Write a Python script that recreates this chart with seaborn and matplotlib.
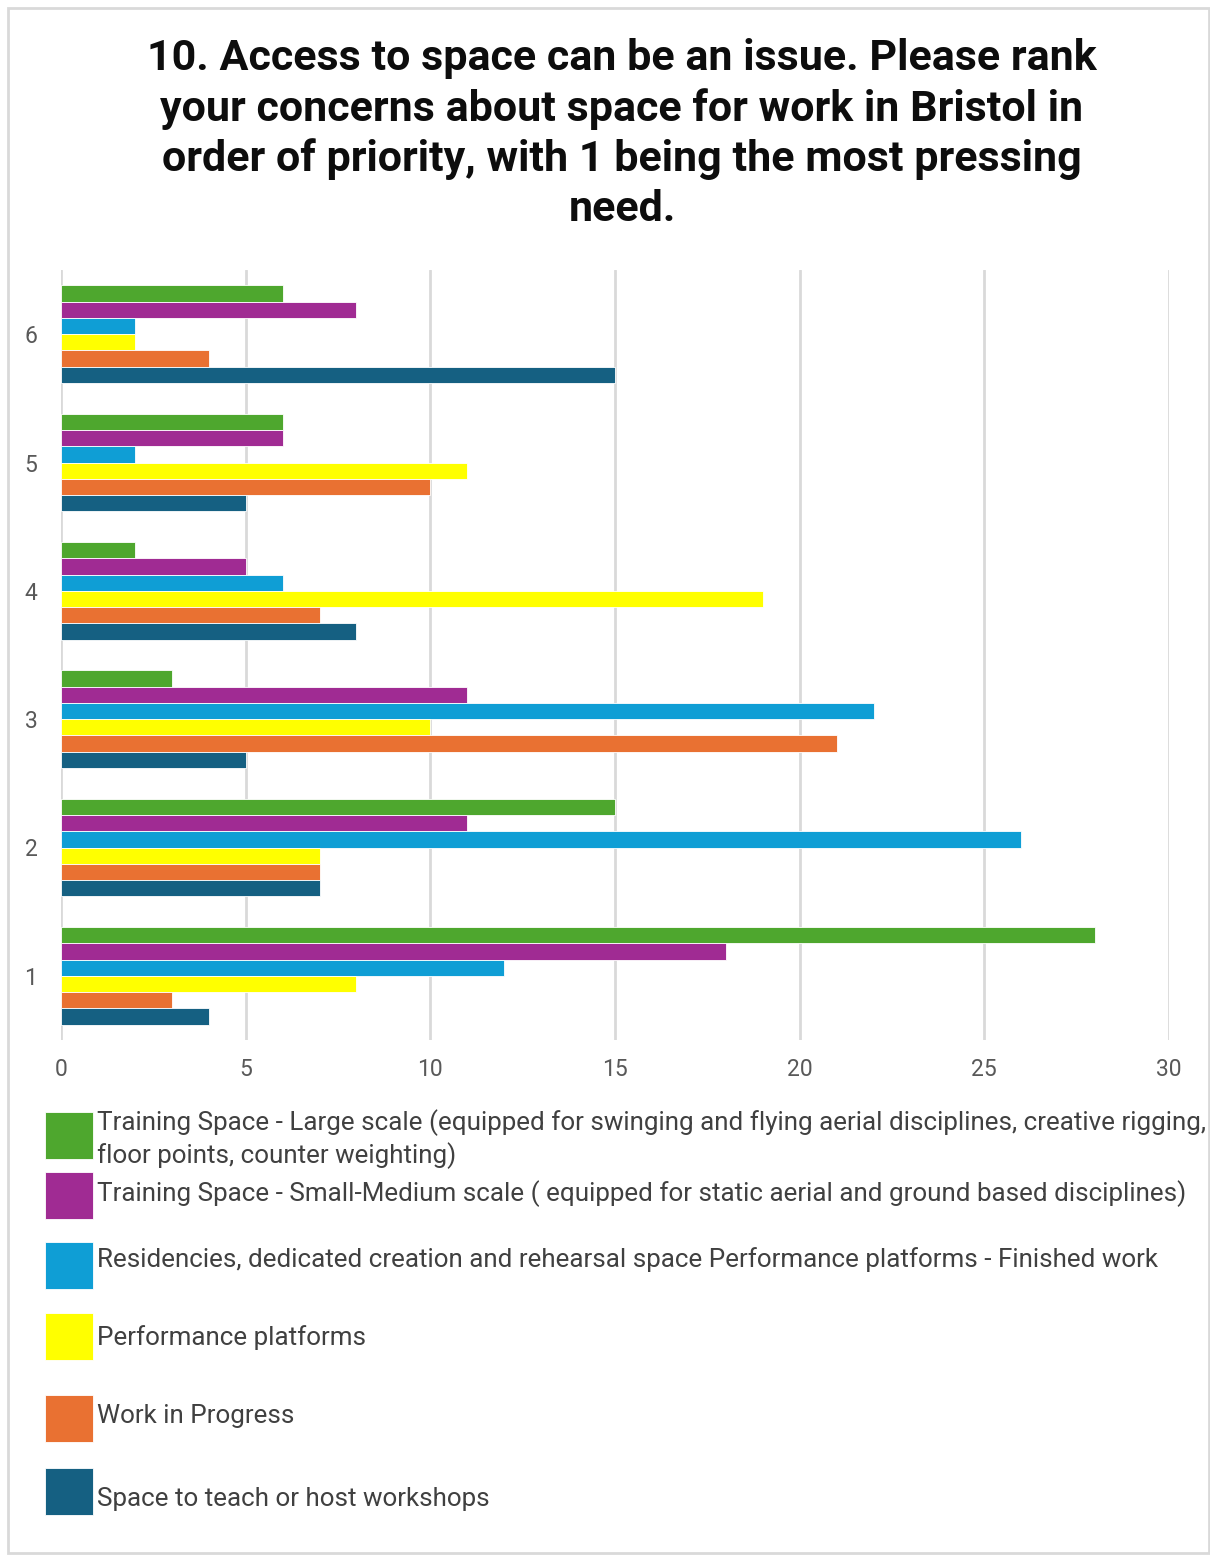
import matplotlib
matplotlib.use("Agg")
import matplotlib.pyplot as plt
from matplotlib.patches import Rectangle
import seaborn as sns
import pandas as pd

# Survey results: number of respondents giving each rank to each kind of space
ranks = ["6", "5", "4", "3", "2", "1"]
series = [
    "Training Space - Large scale (equipped for swinging and flying aerial disciplines, creative rigging,\nfloor points, counter weighting)",
    "Training Space - Small-Medium scale ( equipped for static aerial and ground based disciplines)",
    "Residencies, dedicated creation and rehearsal space Performance platforms - Finished work",
    "Performance platforms",
    "Work in Progress",
    "Space to teach or host workshops",
]
large_scale = [6, 6, 2, 3, 15, 28]
small_medium = [8, 6, 5, 11, 11, 18]
residencies = [2, 2, 6, 22, 26, 12]
performance = [2, 11, 19, 10, 7, 8]
work_in_progress = [4, 10, 7, 21, 7, 3]
workshops = [15, 5, 8, 5, 7, 4]
x_ticks = [0, 5, 10, 15, 20, 25, 30]

colors = ["#4EA72E", "#A02B93", "#0F9ED5", "#FFFF00", "#E97132", "#156082"]

values = [large_scale, small_medium, residencies, performance, work_in_progress, workshops]
rows = []
for name, vals in zip(series, values):
    for r, v in zip(ranks, vals):
        rows.append({"rank": r, "series": name, "count": v})
df = pd.DataFrame(rows)

sns.set_theme(style="white")
plt.rcParams["font.family"] = ["Roboto", "DejaVu Sans"]

W, H = 1210, 1555
fig = plt.figure(figsize=(W / 100, H / 100), dpi=100)


def fx(px):
    return px / W


def fy(py):
    return 1 - py / H


# Outer frame
fig.patches.append(Rectangle((fx(8), fy(1553)), fx(1209) - fx(8), fy(8) - fy(1553),
                             transform=fig.transFigure, fill=False,
                             edgecolor="#d9d9d9", linewidth=2))

ax = fig.add_axes([fx(61), fy(1040), fx(1169) - fx(61), fy(270) - fy(1040)])
sns.barplot(data=df, x="count", y="rank", hue="series", order=ranks,
            hue_order=series, palette=colors, saturation=1, orient="h",
            width=0.76, edgecolor="white", linewidth=0.6, legend=False, ax=ax)

ax.set_xlim(0, 30)
ax.set_xticks(x_ticks)
ax.set_xticklabels([str(t) for t in x_ticks])
ax.set_xlabel("")
ax.set_ylabel("")
for s in ax.spines.values():
    s.set_visible(False)
ax.set_axisbelow(True)
ax.xaxis.grid(True, color="#d9d9d9", linewidth=2)
ax.yaxis.grid(False)
ax.tick_params(axis="x", length=0, pad=13, labelsize=16.5, labelcolor="#595959")
ax.tick_params(axis="y", length=0, pad=17, labelsize=16.5, labelcolor="#595959")

# Title
fig.text(fx(622), fy(134),
         "10. Access to space can be an issue. Please rank\n"
         "your concerns about space for work in Bristol in\n"
         "order of priority, with 1 being the most pressing\n"
         "need.",
         ha="center", va="center", fontsize=31, fontweight="bold",
         color="#0d0d0d", linespacing=1.27, transform=fig.transFigure)

# Legend drawn as swatches with labels beneath the chart
swatch_top = [1112, 1172, 1242, 1313, 1395, 1468]
text_y = [1139, 1194, 1260, 1338, 1416, 1499]
for name, col, top, ty in zip(series, colors, swatch_top, text_y):
    fig.patches.append(Rectangle((fx(45), fy(top + 47)), fx(93) - fx(45), fy(top) - fy(top + 47),
                                 transform=fig.transFigure, facecolor=col,
                                 edgecolor="white", linewidth=0.6))
    fig.text(fx(97), fy(ty), name, ha="left", va="center", fontsize=18.7,
             color="#404040", linespacing=1.3)

fig.savefig("out.png", dpi=100)
